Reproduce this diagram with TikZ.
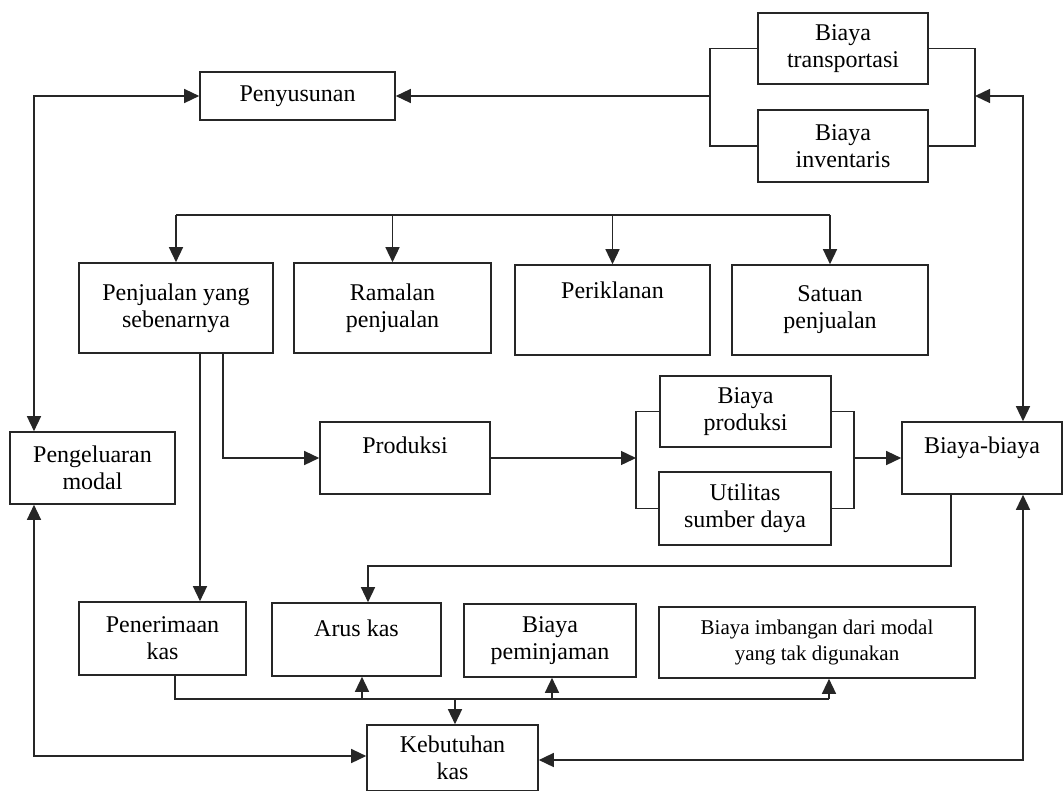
\documentclass[tikz,border=0pt]{standalone}
\usepackage{fontspec}
\setmainfont{Liberation Serif}
\usetikzlibrary{arrows.meta}
\newcommand{\yBusAtas}{215}
\newcommand{\yBusBawah}{699}
\newcommand{\xKiri}{34}
\newcommand{\xKanan}{1023}

\begin{document}
\begin{tikzpicture}[x=1pt,y=-1pt,
  kotak/.style={draw=black!85,line width=1.6pt,inner sep=2pt,align=center,
    font=\fontsize{24}{27}\selectfont},
  ukuran/.style 2 args={minimum width=#1pt,minimum height=#2pt},
  garis/.style={draw=black!85,line width=1.4pt},
  panah/.style={garis,-{Triangle[length=15pt,width=14pt]}},
  panahdua/.style={garis,{Triangle[length=15pt,width=14pt]}-{Triangle[length=15pt,width=14pt]}}]

\useasboundingbox (0,0) rectangle (1064,790);

%% ---------------- top: penyusunan and its cost boxes ----------------
\node[kotak,ukuran={195}{48}] (susun) at (297.5,96) {Penyusunan};
\node[kotak,ukuran={170}{71}] (transp) at (843,48.5) {Biaya\\transportasi};
\node[kotak,ukuran={170}{72}] (invent) at (843,146) {Biaya\\inventaris};

%% ---------------- sales row ----------------
\node[kotak,ukuran={194}{90}] (jual) at (176,308) {Penjualan yang\\sebenarnya};
\node[kotak,ukuran={197}{90}] (ramal) at (392.5,308) {Ramalan\\penjualan};
\node[kotak,ukuran={195}{90},text depth=40pt] (iklan) at (612.5,310) {Periklanan};
\node[kotak,ukuran={196}{90}] (satuan) at (830,310) {Satuan\\penjualan};

%% ---------------- middle row ----------------
\node[kotak,ukuran={165}{72}] (modal) at (92.5,468) {Pengeluaran\\modal};
\node[kotak,ukuran={170}{72},text depth=25pt] (prod) at (405,458) {Produksi};
\node[kotak,ukuran={171}{71}] (bprod) at (745.5,411.5) {Biaya\\produksi};
\node[kotak,ukuran={172}{73}] (util) at (745,508.5) {Utilitas\\sumber daya};
\node[kotak,ukuran={160}{72},text depth=25pt] (biaya) at (982,458) {Biaya-biaya};

%% ---------------- cash row ----------------
\node[kotak,ukuran={167}{73}] (terima) at (162.5,638.5) {Penerimaan\\kas};
\node[kotak,ukuran={169}{73},text depth=23pt] (arus) at (356.5,639.5) {Arus kas};
\node[kotak,ukuran={172}{73}] (pinjam) at (550,640.5) {Biaya\\peminjaman};
\node[kotak,ukuran={316}{71},font=\fontsize{21}{26}\selectfont] (imbang) at (817,642.5)
  {Biaya imbangan dari modal\\yang tak digunakan};
\node[kotak,ukuran={171}{66}] (butuh) at (452.5,758) {Kebutuhan\\kas};

%% ---------------- turning points ----------------
\coordinate (kiriT) at (710,96);
\coordinate (kananT) at (975,96);
\coordinate (sudutA) at (\xKiri,96);
\coordinate (sudutB) at (\xKanan,96);
\coordinate (busA) at (0,\yBusAtas);
\coordinate (jualA) at (223,458);
\coordinate (jualB) at (200,0);
\coordinate (kiriP) at (636,458);
\coordinate (kananP) at (854,458);
\coordinate (sudutC1) at (951,566);
\coordinate (sudutC) at (368,566);
\coordinate (sudutD) at (\xKanan,760);
\coordinate (sudutE) at (\xKiri,756);
\coordinate (busC) at (175,\yBusBawah);
\coordinate (busD) at (829,\yBusBawah);

%% ---------------- connectors ----------------
\draw[garis] (transp.west) -| (kiriT) |- (invent.west);
\draw[panah] (kiriT) -- (susun.east);
\draw[garis] (transp.east) -| (kananT) |- (invent.east);
\draw[panahdua] (kananT) -- (sudutB) -- (sudutB |- biaya.north);
\draw[panahdua] (susun.west) -- (sudutA) -- (sudutA |- modal.north);

\draw[garis] (jual.north |- busA) -- (satuan.north |- busA);
\foreach \n in {jual,ramal,iklan,satuan}
  \draw[panah] (\n.north |- busA) -- (\n.north);

\draw[panah] (jualA |- jual.south) |- (prod.west);
\draw[panah] (jualB |- jual.south) -- (jualB |- terima.north);

\draw[panah] (prod.east) -- (kiriP);
\draw[garis] (bprod.west) -| (kiriP) |- (util.west);
\draw[garis] (bprod.east) -| (kananP) |- (util.east);
\draw[panah] (kananP) -- (biaya.west);

\draw[panah] (sudutC1 |- biaya.south) -- (sudutC1) -- (sudutC) -- (sudutC |- arus.north);
\draw[panahdua] (sudutD |- biaya.south) -- (sudutD) -- (butuh.east |- sudutD);
\draw[panahdua] (modal.south -| sudutE) -- (sudutE) -- (sudutE -| butuh.west);

\draw[garis] (terima.south -| busC) -- (busC) -- (busD);
\foreach \n/\x in {arus/362,pinjam/552,imbang/829}{
  \coordinate (t) at (\x,\yBusBawah);
  \draw[panah] (t) -- (t |- \n.south);
}
\coordinate (tB) at (455,\yBusBawah);
\draw[panah] (tB) -- (tB |- butuh.north);

\end{tikzpicture}
\end{document}
